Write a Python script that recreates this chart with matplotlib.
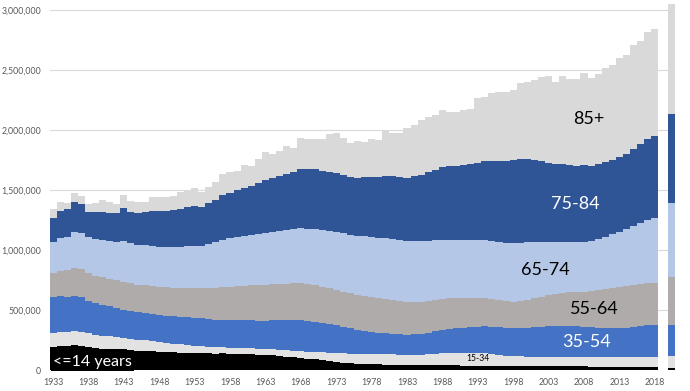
"""
US deaths by age group, 1933-2018, plus a separate 2020 bar on the right.
"""

import matplotlib
matplotlib.use("Agg")
import matplotlib.pyplot as plt
import numpy as np

YEARS = np.arange(1933, 2019)

# deaths in thousands
age_0_14 = [190, 198, 196, 205, 200, 190, 180, 178, 176, 175,
            172, 165, 160, 158, 155, 150, 148, 146, 145, 144,
            142, 140, 138, 137, 138, 135, 134, 133, 130, 128,
            126, 122, 118, 112, 105, 100, 95, 90, 82, 75,
            68, 62, 56, 52, 50, 48, 46, 45, 43, 41,
            40, 39, 39, 39, 39, 39, 38, 38, 37, 36,
            36, 35, 34, 33, 32, 32, 32, 32, 31, 31,
            31, 31, 31, 31, 31, 30, 29, 29, 28, 28,
            28, 28, 28, 28, 28, 28]
age_15_34 = [118, 120, 120, 122, 120, 115, 110, 108, 106, 102,
             98, 96, 94, 90, 86, 83, 78, 72, 68, 64,
             60, 58, 56, 54, 53, 52, 52, 51, 51, 50,
             50, 51, 52, 53, 54, 55, 58, 62, 66, 70,
             74, 76, 78, 80, 82, 85, 86, 87, 87, 86,
             85, 86, 88, 92, 97, 103, 105, 106, 107, 106,
             106, 105, 100, 92, 86, 83, 82, 80, 80, 80,
             80, 80, 81, 81, 81, 81, 79, 78, 77, 77,
             77, 78, 80, 82, 84, 83]
age_35_54 = [300, 298, 295, 290, 285, 270, 265, 255, 248, 240,
             230, 228, 226, 225, 225, 225, 226, 228, 230, 232,
             233, 232, 230, 228, 227, 226, 228, 230, 232, 234,
             236, 240, 245, 250, 256, 262, 258, 252, 246, 240,
             233, 224, 214, 204, 195, 186, 180, 176, 172, 170,
             170, 172, 176, 180, 186, 191, 196, 202, 208, 214,
             219, 224, 228, 232, 234, 235, 238, 242, 246, 250,
             256, 258, 258, 256, 254, 250, 248, 246, 245, 245,
             245, 246, 250, 255, 260, 264]
age_55_64 = [200, 210, 220, 233, 235, 232, 230, 230, 232, 233,
             233, 232, 232, 233, 234, 234, 236, 240, 244, 247,
             250, 254, 260, 266, 274, 281, 285, 288, 292, 295,
             297, 300, 302, 304, 306, 308, 306, 302, 298, 295,
             292, 292, 292, 292, 292, 292, 290, 286, 280, 275,
             270, 268, 266, 264, 263, 262, 258, 252, 246, 242,
             239, 234, 228, 224, 220, 219, 224, 232, 240, 250,
             258, 264, 270, 278, 285, 292, 300, 310, 322, 334,
             344, 350, 352, 352, 350, 350]
age_65_74 = [259, 270, 280, 300, 300, 298, 305, 312, 316, 320,
             345, 334, 333, 332, 333, 333, 335, 338, 340, 343,
             345, 348, 365, 378, 395, 408, 412, 418, 424, 430,
             434, 440, 444, 448, 452, 458, 462, 468, 474, 480,
             486, 486, 488, 490, 494, 497, 500, 504, 506, 508,
             510, 508, 504, 500, 495, 490, 488, 486, 485, 484,
             483, 484, 486, 488, 489, 489, 486, 480, 470, 458,
             444, 436, 428, 422, 418, 416, 420, 428, 438, 448,
             459, 472, 488, 506, 524, 542]
age_75_84 = [200, 225, 228, 250, 240, 215, 230, 232, 234, 236,
             275, 262, 266, 275, 290, 300, 305, 310, 318, 325,
             333, 325, 345, 352, 368, 375, 385, 398, 408, 425,
             441, 447, 456, 468, 476, 492, 496, 498, 494, 492,
             489, 482, 478, 484, 492, 503, 508, 522, 526, 526,
             528, 540, 556, 572, 588, 605, 614, 620, 628, 636,
             645, 656, 668, 676, 684, 692, 700, 696, 686, 672,
             659, 648, 648, 640, 634, 639, 625, 624, 622, 620,
             625, 630, 645, 660, 675, 683]
# top edge of the stack (all ages); the 85+ band fills up to it
all_ages = [1342, 1397, 1392, 1479, 1450, 1381, 1388, 1417, 1398, 1385,
            1460, 1411, 1402, 1396, 1445, 1444, 1444, 1452, 1482, 1497,
            1518, 1481, 1529, 1564, 1633, 1648, 1657, 1712, 1702, 1757,
            1814, 1798, 1828, 1863, 1851, 1930, 1922, 1921, 1928, 1964,
            1973, 1934, 1893, 1909, 1900, 1928, 1914, 1990, 1978, 1975,
            2019, 2039, 2086, 2105, 2123, 2168, 2150, 2148, 2170, 2176,
            2269, 2279, 2312, 2315, 2314, 2337, 2391, 2403, 2416, 2443,
            2448, 2398, 2448, 2426, 2424, 2471, 2437, 2468, 2515, 2543,
            2597, 2626, 2712, 2744, 2813, 2839]

# the lone bar at the right edge (2020)
EXTRA_YEAR = 2020.35
extra_bar = [20, 97, 258, 400, 617, 741, 917]

GROUPS = ["<=14", "15-34", "35-54", "55-64", "65-74", "75-84", "85+"]
COLORS = ["#000000", "#e2e2e2", "#4472c4", "#afabab", "#b4c7e7", "#2f5597", "#d9d9d9"]

lower = np.array([age_0_14, age_15_34, age_35_54, age_55_64, age_65_74, age_75_84],
                 dtype=float) * 1000
tops = np.vstack([np.cumsum(lower, axis=0), np.array(all_ages, dtype=float) * 1000])
bottoms = np.vstack([np.zeros(len(YEARS)), tops[:-1]])
edges = np.append(YEARS - 0.5, YEARS[-1] + 0.5)

fig = plt.figure(figsize=(6.9, 3.91), dpi=100)
ax = fig.add_axes([49.5 / 690, 21 / 391, (676 - 49.5) / 690, 366 / 391])

for top, bottom, color in zip(tops, bottoms, COLORS):
    ax.stairs(top, edges, baseline=bottom, fill=True, color=color, linewidth=0)

extra = np.array(extra_bar, dtype=float) * 1000
ax.bar(EXTRA_YEAR, extra, width=0.9, bottom=np.concatenate([[0], np.cumsum(extra)[:-1]]),
       color=COLORS, linewidth=0)

YMAX = 3_050_000
ax.set_xlim(1932.5, 2021.0)
ax.set_ylim(0, YMAX)
for v in range(0, 3_000_001, 500_000):
    ax.plot([1932.5, 2019.7], [v, v], color="#d9d9d9", lw=0.8, zorder=0)

for s in ax.spines.values():
    s.set_visible(False)
ax.set_yticks(range(0, 3_000_001, 500_000))
ax.set_yticklabels([f"{v:,}" for v in range(0, 3_000_001, 500_000)])
ax.set_xticks(YEARS[::5])
ax.set_xticklabels([str(y) for y in YEARS[::5]])
ax.tick_params(length=0, labelsize=6.3, labelcolor="#595959", pad=6)
for lab in ax.get_xticklabels() + ax.get_yticklabels():
    lab.set_family("Lato")

font = dict(family="Lato", fontsize=13)
ax.text(1933.0, 70_000, "<=14 years", color="white", ha="left", va="center",
        family="Lato", fontsize=11.5,
        bbox=dict(facecolor="black", edgecolor="none", pad=1.5))
ax.text(1993.0, 92_000, "15-34", color="black", ha="center", va="center",
        family="Lato", fontsize=6.2)
ax.text(2008.4, 235_000, "35-54", color="white", ha="center", va="center", **font)
ax.text(2009.4, 505_000, "55-64", color="black", ha="center", va="center", **font)
ax.text(2002.5, 830_000, "65-74", color="black", ha="center", va="center", **font)
ax.text(2006.8, 1_380_000, "75-84", color="white", ha="center", va="center", **font)
ax.text(2008.7, 2_090_000, "85+", color="black", ha="center", va="center", **font)

fig.savefig("out.png", dpi=100)
